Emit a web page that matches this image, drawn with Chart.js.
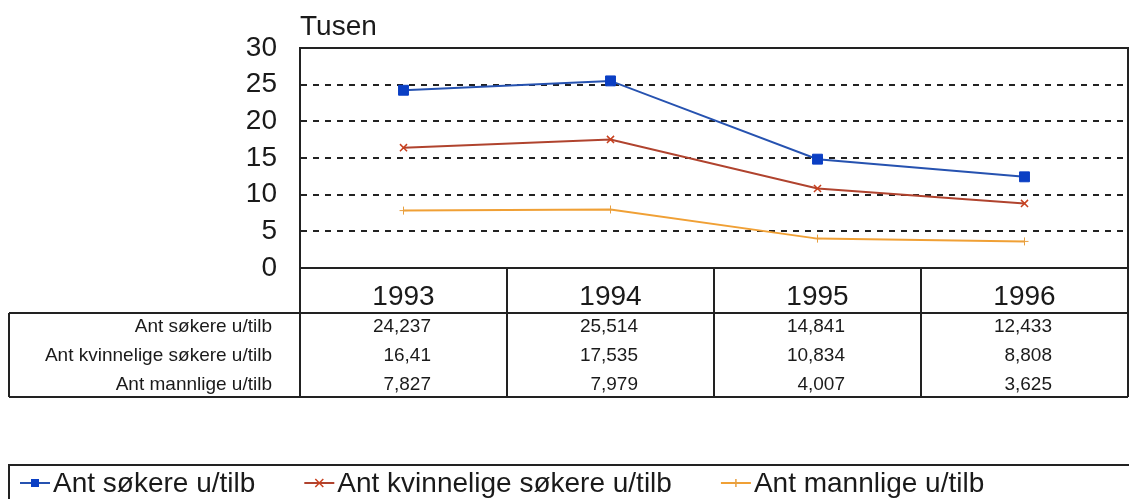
<!DOCTYPE html>
<html><head><meta charset="utf-8">
<script src="https://cdn.jsdelivr.net/npm/chart.js@4/dist/chart.umd.min.js"></script>
<style>html,body{margin:0;padding:0;background:#fff}#wrap{width:1129px;height:499px;position:relative}</style>
</head><body><div id="wrap"><canvas id="c" width="1129" height="499"></canvas></div>
<script>
const years = ['1993', '1994', '1995', '1996'];
const seriesNames = ['Ant søkere u/tilb', 'Ant kvinnelige søkere u/tilb', 'Ant mannlige u/tilb'];
const sokere = [24.237, 25.514, 14.841, 12.433];
const kvinnelige = [16.41, 17.535, 10.834, 8.808];
const mannlige = [7.827, 7.979, 4.007, 3.625];
const yTicks = [0, 5, 10, 15, 20, 25, 30];
const unitLabel = 'Tusen';

const FONT = "'Liberation Sans', Arial, sans-serif";
const INK = '#1a1a1a';
Chart.defaults.font.family = FONT;
Chart.defaults.color = INK;

function fmt(v) { return String(v).replace('.', ','); }

function drawMarker(ctx, style, x, y, r, color) {
  ctx.save();
  ctx.strokeStyle = color; ctx.fillStyle = color; ctx.lineWidth = 1.5;
  ctx.beginPath();
  if (style === 'rect') {
    ctx.fillRect(x - r, y - r, 2 * r, 2 * r);
  } else if (style === 'crossRot') {
    ctx.moveTo(x - r, y - r); ctx.lineTo(x + r, y + r);
    ctx.moveTo(x + r, y - r); ctx.lineTo(x - r, y + r); ctx.stroke();
  } else {
    ctx.moveTo(x - r, y); ctx.lineTo(x + r, y);
    ctx.moveTo(x, y - r); ctx.lineTo(x, y + r); ctx.stroke();
  }
  ctx.restore();
}

const tablePlugin = {
  id: 'tablePlugin',
  afterDraw(chart) {
    const ctx = chart.ctx, a = chart.chartArea, xs = chart.scales.x;
    const half = (xs.getPixelForValue(1) - xs.getPixelForValue(0)) / 2;
    const bounds = years.map((_, i) => xs.getPixelForValue(i) + half);
    const headTop = a.bottom, headBot = 313, tblBot = 397, tblLeft = 9;
    ctx.save();
    ctx.strokeStyle = '#222'; ctx.lineWidth = 2;
    ctx.strokeRect(a.left, a.top, a.right - a.left, a.bottom - a.top);
    ctx.beginPath();
    ctx.moveTo(a.left, headTop); ctx.lineTo(a.left, tblBot);
    bounds.forEach(b => { ctx.moveTo(b, headTop); ctx.lineTo(b, tblBot); });
    ctx.moveTo(tblLeft, headBot); ctx.lineTo(a.right, headBot);
    ctx.moveTo(tblLeft, tblBot); ctx.lineTo(a.right, tblBot);
    ctx.moveTo(tblLeft, headBot); ctx.lineTo(tblLeft, tblBot);
    ctx.stroke();
    const rowsY = [327, 356, 385];
    ctx.fillStyle = INK;
    ctx.font = '19px ' + FONT;
    ctx.textBaseline = 'middle';
    chart.data.datasets.forEach((ds, r) => {
      ctx.textAlign = 'right';
      ctx.fillText(ds.label, a.left - 28, rowsY[r]);
      ds.data.forEach((v, i) => {
        ctx.fillText(fmt(v), bounds[i] - 76, rowsY[r]);
      });
    });
    ctx.font = '28px ' + FONT;
    ctx.textAlign = 'left'; ctx.textBaseline = 'alphabetic';
    ctx.fillText(unitLabel, a.left, 35);
    ctx.lineWidth = 2;
    ctx.strokeRect(tblLeft, 465, 1140 - tblLeft, 60);
    let x = 20; const ly = 483;
    ctx.textBaseline = 'middle';
    chart.data.datasets.forEach(ds => {
      ctx.strokeStyle = ds.borderColor; ctx.lineWidth = 2;
      ctx.beginPath(); ctx.moveTo(x, ly); ctx.lineTo(x + 30, ly); ctx.stroke();
      drawMarker(ctx, ds.pointStyle, x + 15, ly, 4, ds.pointBorderColor);
      ctx.fillStyle = INK;
      ctx.font = '28px ' + FONT;
      ctx.fillText(ds.label, x + 33, ly + 1);
      x += 33 + ctx.measureText(ds.label).width + 49;
    });
    ctx.restore();
  }
};

new Chart(document.getElementById('c'), {
  type: 'line',
  data: {
    labels: years,
    datasets: [
      { label: seriesNames[0], data: sokere, borderColor: '#2652b0', borderWidth: 2,
        pointStyle: 'rect', pointRadius: 7, pointBorderColor: '#0b3fc4', pointBackgroundColor: '#0b3fc4', pointBorderWidth: 1 },
      { label: seriesNames[1], data: kvinnelige, borderColor: '#b0432e', borderWidth: 2,
        pointStyle: 'crossRot', pointRadius: 5, pointBorderColor: '#c8401e', pointBackgroundColor: '#c8401e', pointBorderWidth: 1.5 },
      { label: seriesNames[2], data: mannlige, borderColor: '#f0a035', borderWidth: 2,
        pointStyle: 'cross', pointRadius: 4, pointBorderColor: '#e8a040', pointBackgroundColor: '#e8a040', pointBorderWidth: 1 }
    ]
  },
  options: {
    responsive: false, animation: false,
    layout: { autoPadding: false, padding: { top: 48, right: 1, left: 0, bottom: 0 } },
    plugins: { legend: { display: false }, tooltip: { enabled: false } },
    scales: {
      x: {
        type: 'category', offset: true,
        grid: { display: false, drawTicks: false }, border: { display: false },
        ticks: { font: { size: 28 }, color: INK, padding: 12, maxRotation: 0, autoSkip: false },
        afterFit(s) { s.height = 231; s.paddingLeft = 0; s.paddingRight = 0; }
      },
      y: {
        min: 0, max: 30,
        afterBuildTicks(s) { s.ticks = yTicks.map(v => ({ value: v })); },
        grid: { color: '#222', lineWidth: 2, drawTicks: false },
        border: { display: true, color: '#222', width: 2, dash: [6, 6] },
        ticks: { font: { size: 28 }, color: INK, padding: 23 },
        afterFit(s) { s.width = 300; s.paddingTop = 0; s.paddingBottom = 0; }
      }
    }
  },
  plugins: [tablePlugin]
});
</script>
</body></html>
